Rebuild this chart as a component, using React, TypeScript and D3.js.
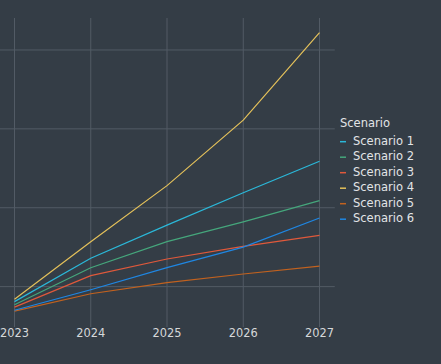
import { useMemo } from "react";
import * as d3 from "d3";

const years = [2023, 2024, 2025, 2026, 2027];
const seriesNames = ["Scenario 1", "Scenario 2", "Scenario 3", "Scenario 4", "Scenario 5", "Scenario 6"];
const scenario1 = [81, 136, 178, 219, 259];
const scenario2 = [77, 124, 157, 182, 209];
const scenario3 = [74, 114, 135, 151, 165];
const scenario4 = [84, 157, 228, 311, 422];
const scenario5 = [69, 91, 105, 116, 126];
const scenario6 = [70, 96, 124, 150, 187];
const seriesValues = [scenario1, scenario2, scenario3, scenario4, scenario5, scenario6];
const colors = ["#2bb8d9", "#45a77c", "#e0593b", "#e4c15a", "#c2621f", "#1f87e3"];

const W = 441;
const H = 364;

export default function App() {
  const { x, y, lines, yTicks } = useMemo(() => {
    // ggplot-like 5% expansion on both axes
    const xs = d3.extent(years) as [number, number];
    const xPad = (xs[1] - xs[0]) * 0.05;
    const x = d3.scaleLinear().domain([xs[0] - xPad, xs[1] + xPad]).range([-0.75, 334.75]);

    const all = seriesValues.flat();
    const ys = d3.extent(all) as [number, number];
    const yPad = (ys[1] - ys[0]) * 0.05;
    const y = d3.scaleLinear().domain([ys[0] - yPad, ys[1] + yPad]).range([325, 18.7]);

    const line = d3.line<number>()
      .x((_, i) => x(years[i]))
      .y((d) => y(d));

    const lines = seriesValues.map((vals) => line(vals) || "");
    return { x, y, lines, yTicks: y.ticks(4) };
  }, []);

  const panelTop = 18;
  const panelBottom = 327;
  const panelLeft = x.range()[0];
  const panelRight = x.range()[1];

  return (
    <svg
      width={W}
      height={H}
      style={{ position: "fixed", left: 0, top: 0, display: "block", fontFamily: "DejaVu Sans" }}
    >
      <rect width={W} height={H} fill="#343d46" />

      {/* grid */}
      <g stroke="#525b65" strokeWidth={1}>
        {yTicks.map((t) => (
          <line key={"h" + t} x1={panelLeft} x2={panelRight} y1={y(t)} y2={y(t)} />
        ))}
        {years.map((yr) => (
          <line key={"v" + yr} x1={x(yr)} x2={x(yr)} y1={panelTop} y2={panelBottom} />
        ))}
      </g>

      {/* series */}
      <g fill="none" strokeWidth={1.2}>
        {lines.map((d, i) => (
          <path key={seriesNames[i]} d={d} stroke={colors[i]} />
        ))}
      </g>

      {/* x ticks */}
      <g fill="#d6d8da" fontSize={11.4} textAnchor="middle">
        {years.map((yr) => (
          <text key={yr} x={x(yr)} y={336.8}>
            {yr}
          </text>
        ))}
      </g>

      {/* legend */}
      <g fontSize={11.5} fill="#e2e4e6">
        <text x={340} y={127}>Scenario</text>
        {seriesNames.map((name, i) => {
          const cy = 141.7 + i * 15.5;
          return (
            <g key={name}>
              <line x1={340} x2={346} y1={cy} y2={cy} stroke={colors[i]} strokeWidth={1.5} />
              <text x={353} y={cy + 3.2}>{name}</text>
            </g>
          );
        })}
      </g>
    </svg>
  );
}
